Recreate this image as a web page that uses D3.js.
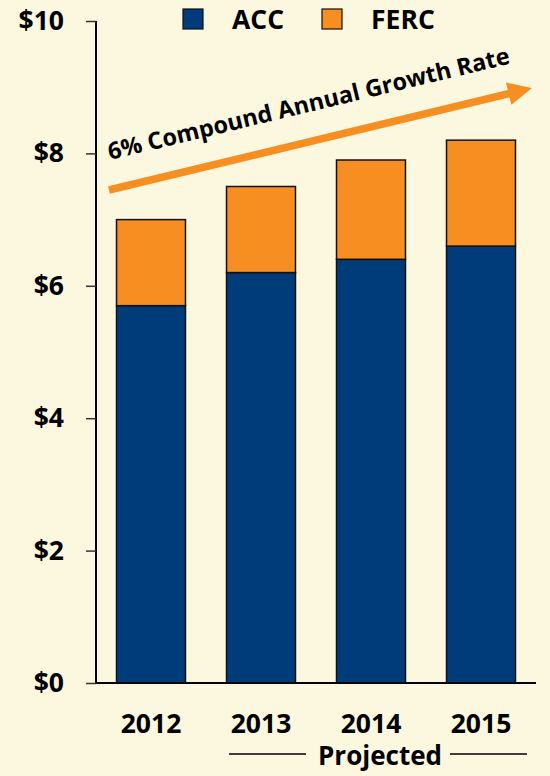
<!DOCTYPE html>
<html>
<head>
<meta charset="utf-8">
<script src="https://cdn.jsdelivr.net/npm/d3@7"></script>
<style>
  html, body { margin: 0; padding: 0; background: #FCF7DF; }
  svg { display: block; }
  text { font-family: "Open Sans", Lato, sans-serif; font-weight: 700; fill: #000; }
</style>
</head>
<body>
<script>
// Revenue by year, split into ACC and FERC components ($ billions)
const years = ["2012", "2013", "2014", "2015"];
const acc = [5.7, 6.2, 6.4, 6.6];
const ferc = [1.3, 1.3, 1.5, 1.6];
const seriesNames = ["ACC", "FERC"];
const seriesColors = ["#003B7A", "#F68E21"];
const yTicks = [0, 2, 4, 6, 8, 10];

const W = 550, H = 776;
const FONT = 26.5;
const svg = d3.select("body").append("svg").attr("width", W).attr("height", H);

const plot = { left: 96, right: 536, top: 21, bottom: 683 };
const x = d3.scaleBand().domain(years)
  .range([plot.left, plot.right]).paddingInner(0.373).paddingOuter(0.1865);
const y = d3.scaleLinear().domain([0, 10]).range([plot.bottom, plot.top]);

// Stacked bars
const rows = years.map((yr, i) => ({ year: yr, ACC: acc[i], FERC: ferc[i] }));
const stacked = d3.stack().keys(seriesNames)(rows);
svg.append("g").selectAll("g").data(stacked).join("g")
  .attr("fill", (d, i) => seriesColors[i])
  .selectAll("rect").data(d => d).join("rect")
  .attr("x", d => x(d.data.year))
  .attr("y", d => y(d[1]))
  .attr("width", x.bandwidth())
  .attr("height", d => y(d[0]) - y(d[1]))
  .attr("stroke", "#111").attr("stroke-width", 1.5);

// Y axis
const yAxis = svg.append("g").attr("transform", `translate(${plot.left},0)`)
  .call(d3.axisLeft(y).tickValues(yTicks).tickFormat(d => "$" + d).tickSize(10).tickPadding(22));
yAxis.select(".domain").attr("stroke", "#000").attr("stroke-width", 2).attr("d", `M0,${y(10)}V${y(0)}`);
yAxis.selectAll(".tick line").attr("stroke", "#333").attr("stroke-width", 1.5);
yAxis.selectAll(".tick text").attr("font-size", FONT).attr("font-family", "'Open Sans', sans-serif")
  .attr("font-weight", 700).attr("fill", "#000");

// X baseline and year labels
svg.append("line").attr("x1", plot.left).attr("x2", plot.right)
  .attr("y1", y(0)).attr("y2", y(0)).attr("stroke", "#000").attr("stroke-width", 2);
svg.append("g").selectAll("text").data(years).join("text")
  .attr("x", d => x(d) + x.bandwidth() / 2)
  .attr("y", y(0) + 50)
  .attr("text-anchor", "middle").attr("font-size", FONT).text(d => d);

// Projected bracket
const pY = 754;
svg.append("text").attr("x", 380).attr("y", 765).attr("text-anchor", "middle")
  .attr("font-size", 26).text("Projected");
svg.append("line").attr("x1", 229).attr("x2", 306).attr("y1", pY).attr("y2", pY).attr("stroke", "#000").attr("stroke-width", 1.6);
svg.append("line").attr("x1", 450).attr("x2", 527).attr("y1", pY).attr("y2", pY).attr("stroke", "#000").attr("stroke-width", 1.6);

// Legend
const legend = svg.append("g");
const legendX = [183, 322];
seriesNames.forEach((name, i) => {
  legend.append("rect").attr("x", legendX[i]).attr("y", 9).attr("width", 20).attr("height", 20)
    .attr("fill", seriesColors[i]).attr("stroke", "#111").attr("stroke-width", 1.2);
  legend.append("text").attr("x", legendX[i] + 49).attr("y", 29).attr("font-size", FONT).text(name);
});

// Growth arrow
const ax0 = 109, ay0 = 190, ax1 = 532, ay1 = 88;
const ang = Math.atan2(ay1 - ay0, ax1 - ax0);
const headLen = 24, headHalf = 11.5;
const bx = ax1 - headLen * Math.cos(ang), by = ay1 - headLen * Math.sin(ang);
svg.append("line").attr("x1", ax0).attr("y1", ay0).attr("x2", bx + 2 * Math.cos(ang)).attr("y2", by + 2 * Math.sin(ang))
  .attr("stroke", "#F68E21").attr("stroke-width", 7.5);
const nx = -Math.sin(ang), ny = Math.cos(ang);
svg.append("path")
  .attr("d", `M${ax1},${ay1}L${bx + nx * headHalf},${by + ny * headHalf}L${bx - nx * headHalf},${by - ny * headHalf}Z`)
  .attr("fill", "#F68E21");

svg.append("text")
  .attr("transform", `translate(110,160) rotate(${ang * 180 / Math.PI})`)
  .attr("font-size", 23.5).text("6% Compound Annual Growth Rate");
</script>
</body>
</html>
